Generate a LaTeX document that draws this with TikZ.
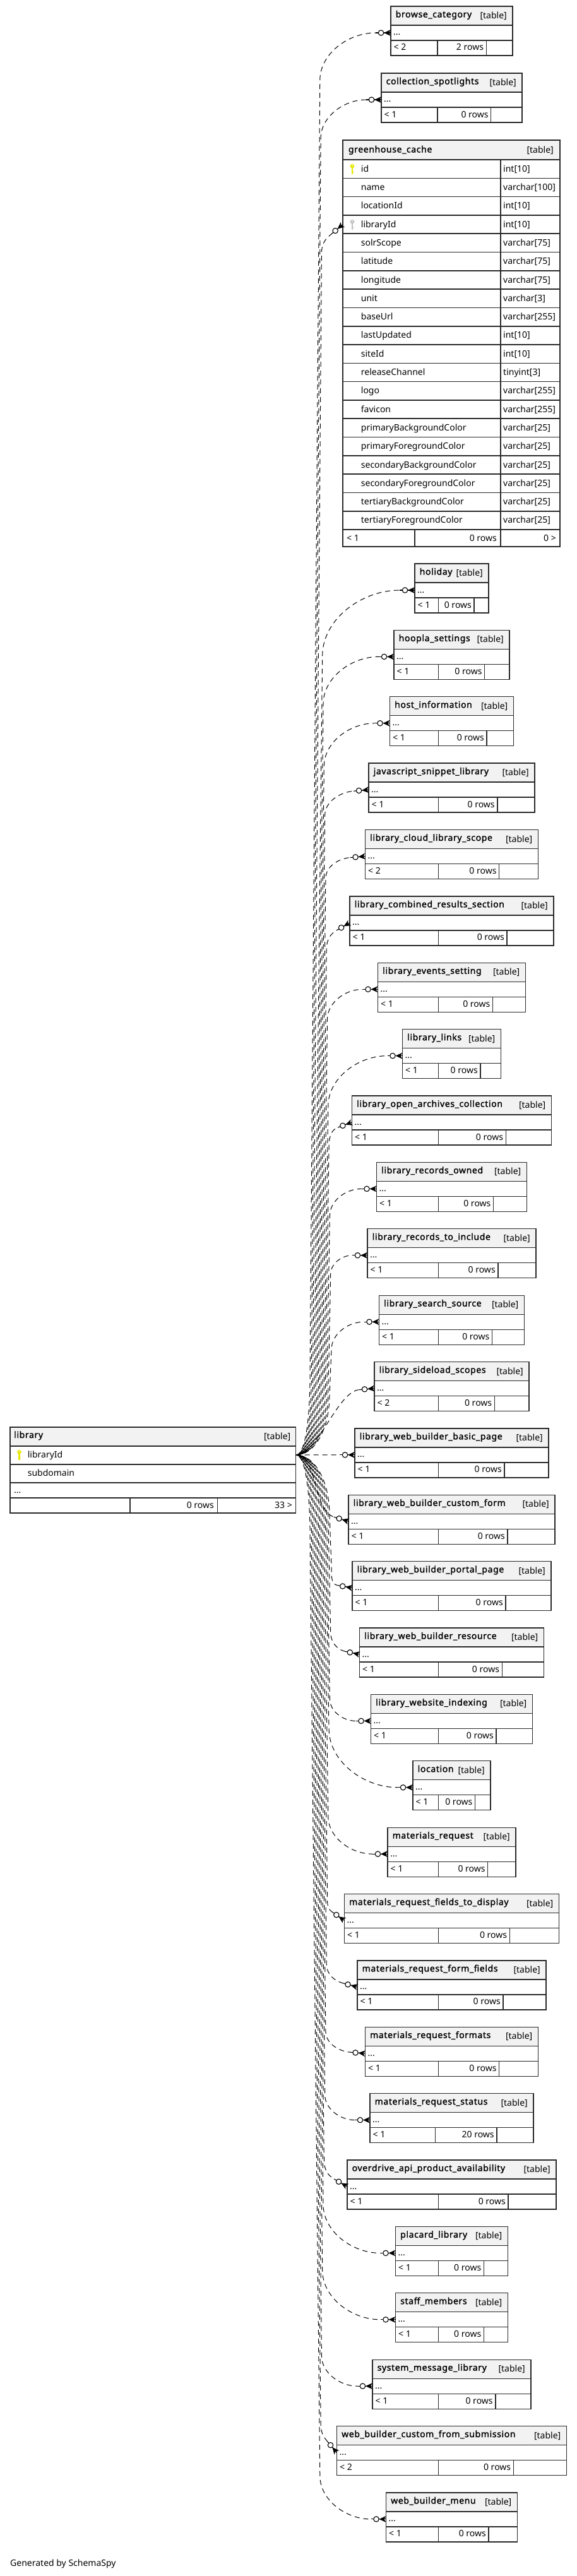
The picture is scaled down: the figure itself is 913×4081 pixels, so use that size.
\documentclass[tikz,border=0pt]{standalone}
\usepackage{fontspec}
\setmainfont{Noto Sans}[BoldFont={Noto Sans}, BoldFeatures={FakeBold=1.6, LetterSpace=4.5}]
\usetikzlibrary{calc}
\definecolor{hdrfill}{HTML}{F2F2F2}
\definecolor{keyyellow}{HTML}{E6E600}
\definecolor{keygray}{HTML}{C0C0C0}
\definecolor{linecol}{HTML}{2A2A2A}
\tikzset{
 tabline/.style={draw=linecol, line width=1.3pt},
 gin/.style={draw=linecol, line width=1.6pt},
 gout/.style={draw=linecol, line width=2.6pt},
 ttl/.style={anchor=base west, inner sep=0pt, font=\fontsize{14}{16}\selectfont\bfseries},
 tagtxt/.style={anchor=base east, inner sep=0pt, font=\fontsize{14}{16}\selectfont},
 txt/.style={anchor=base west, inner sep=0pt, font=\fontsize{14}{16}\selectfont},
 txtr/.style={anchor=base east, inner sep=0pt, font=\fontsize{14}{16}\selectfont},
 fk/.style={draw=black, line width=1pt, dash pattern=on 8pt off 6pt},
 fkhead/.style={draw=black, line width=1.1pt, solid},
}
\newcommand\keyicon[3]{%
  \fill[#3] (#1,#2+3.2) ellipse[x radius=3.4pt, y radius=3.2pt];
  \fill[#3] (#1-1.1,#2+5) rectangle (#1+1.1,#2+15.5);
  \fill[#3] (#1+1.1,#2+11.5) rectangle (#1+2.6,#2+13);
  \fill[white] (#1,#2+2.6) circle[radius=1.1pt];
}
\newcommand\smalltab[7]{%
  \pgfmathsetmacro\tabTop{#4}%
  \pgfmathsetmacro\tabL{715.5-#3/2}%
  \pgfmathsetmacro\tabR{715.5+#3/2}%
  \pgfmathsetmacro\tabDb{\tabR-(0.248*#3-6.1)}%
  \pgfmathsetmacro\tabPx{\tabL}%
  \pgfmathsetmacro\tabPy{\tabTop+42}%
  \fill[hdrfill] (\tabL,\tabTop) rectangle (\tabR,\tabTop+30);
  \draw[tabline] (\tabL,\tabTop+30) -- (\tabR,\tabTop+30)
     (\tabL,\tabTop+54) -- (\tabR,\tabTop+54)
     (#7,\tabTop+54) -- (#7,\tabTop+78)
     (\tabDb,\tabTop+54) -- (\tabDb,\tabTop+78);
  \draw[tabline] (\tabL,\tabTop) rectangle (\tabR,\tabTop+78);
  \node[ttl] (#1-title) at (\tabL+7.5,\tabTop+17.5) {#2};
  \node[tagtxt] (#1-tag) at (\tabR-9,\tabTop+19.5) {[table]};
  \node[txt] (#1-dots) at (\tabL+4,\tabTop+46) {...};
  \node[txt] (#1-min) at (\tabL+4.5,\tabTop+70) {#5};
  \node[txtr] (#1-cnt) at (\tabDb-4,\tabTop+70) {#6};
  \coordinate (#1-port) at (\tabPx,\tabPy);
}
\newcommand\crowfoot[2]{%
  \coordinate (#1-V) at ($(#1-port)+(180+#2:11)$);
  \coordinate (#1-O) at ($(#1-port)+(180+#2:15.5)$);
  \draw[fkhead] (#1-C) -- (#1-port);
  \draw[fkhead, fill=white] (#1-O) circle[radius=4.2pt];
  \fill[black] (#1-V) -- ($(#1-port)!5pt!90:(#1-V)$) -- ($(#1-port)+(180+#2:3)$) -- ($(#1-port)!5pt!-90:(#1-V)$) -- cycle;
}
\newcommand\bundleedge[4]{%
  \pgfmathsetmacro\eXa{522-2.2*#3}%
  \pgfmathsetmacro\eXb{525-1.3*#3}%
  \pgfmathsetmacro\eCx{\tabPx-24*cos(#4)}%
  \pgfmathsetmacro\eCy{\tabPy-24*sin(#4)}%
  \pgfmathsetmacro\eH{max(30,0.85*(\eCx-\eXb))}%
  \pgfmathsetmacro\eQ{max(10,0.5*(\eCx-\eXb))}%
  \pgfmathsetmacro\eYa{2305+#2*(95+3*#3)}%
  \pgfmathsetmacro\eYb{\eCy-#2*\eH}%
  \pgfmathsetmacro\eYc{\eCy-#2*0.45*\eH}%
  \pgfmathsetmacro\eXm{468.5+0.6*(\eXa-468.5)}%
  \pgfmathsetmacro\eYm{2305+#2*45}%
  \pgfmathsetmacro\ePh{mod(#3*5+(#2+1)*4,14)}%
  \coordinate (#1-C) at (\eCx,\eCy);
  \draw[fk, dash phase=\ePh pt] (lib-port) .. controls (\eXm,2305) and (\eXa,\eYm) .. (\eXa,\eYa) -- (\eXb,\eYb) .. controls (\eXb,\eYc) and ($(#1-C)+(180+#4:\eQ)$) .. (#1-C);
  \crowfoot{#1}{#4}
}
\newcommand\directedge[2]{%
  \pgfmathsetmacro\eCx{\tabPx-24*cos(#2)}%
  \pgfmathsetmacro\eCy{\tabPy-24*sin(#2)}%
  \coordinate (#1-C) at (\eCx,\eCy);
  \draw[fk] (lib-port) .. controls ($(lib-port)+(35,0)$) and ($(#1-C)+(180+#2:35)$) .. (#1-C);
  \crowfoot{#1}{#2}
}
\begin{document}
\begin{tikzpicture}[x=1pt,y=-1pt]
\useasboundingbox (0,0) rectangle (913,4081);
\coordinate (lib-port) at (468.5,2305);

% ---------- library ----------
\fill[hdrfill] (16,2261) rectangle (468.5,2291);
\draw[tabline, line width=1.5pt] (16,2291) -- (468.5,2291) (16,2320) -- (468.5,2320) (16,2349) -- (468.5,2349) (16,2373) -- (468.5,2373)
  (206,2373) -- (206,2397) (344.6,2373) -- (344.6,2397);
\draw[tabline, line width=1.5pt] (16,2261) rectangle (468.5,2397);
\node[ttl] (lib-title) at (22,2278) {library};
\node[tagtxt] (lib-tag) at (460.5,2280.5) {[table]};
\keyicon{30.5}{2297}{keyyellow}
\node[txt] (lib-r1) at (43.6,2309) {libraryId};
\node[txt] (lib-r2) at (43.6,2338) {subdomain};
\node[txt] (lib-dots) at (22,2365) {...};
\node[txtr] (lib-cnt) at (339,2389) {0 rows};
\node[txtr] (lib-ref) at (463,2389) {33 >};

% ---------- greenhouse_cache ----------
\fill[hdrfill] (543,222) rectangle (887,253);
\foreach \i in {0,...,20} \draw[gin] (543,{253+29.3*\i}) -- (887,{253+29.3*\i});
\draw[gin] (793,253) -- (793,866) (657,839) -- (657,866);
\draw[gout] (543,222) rectangle (887,866);
\node[ttl] (gc-title) at (551.7,241.5) {greenhouse\_cache};
\node[tagtxt] (gc-tag) at (877,242) {[table]};
\foreach \nm/\ty [count=\i from 0] in {id/int[10],name/varchar[100],locationId/int[10],libraryId/int[10],solrScope/varchar[75],latitude/varchar[75],longitude/varchar[75],unit/varchar[3],baseUrl/varchar[255],lastUpdated/int[10],siteId/int[10],releaseChannel/tinyint[3],logo/varchar[255],favicon/varchar[255],primaryBackgroundColor/varchar[25],primaryForegroundColor/varchar[25],secondaryBackgroundColor/varchar[25],secondaryForegroundColor/varchar[25],tertiaryBackgroundColor/varchar[25],tertiaryForegroundColor/varchar[25]}{
  \node[txt] (gc-n\i) at (571.7,{253+29.3*\i+19.2}) {\nm};
  \node[txt] (gc-t\i) at (797,{253+29.3*\i+19.2}) {\ty};
}
\keyicon{558}{260}{keyyellow}
\keyicon{558}{348}{keygray}
\node[txt] (gc-min) at (549,857) {< 1};
\node[txtr] (gc-cnt) at (787,857) {0 rows};
\node[txtr] (gc-ref) at (881,857) {0 >};
\coordinate (gc-port) at (543,355.6);

% ---------- edges and child tables ----------
\smalltab{browse}{browse\_category}{193}{10}{< 2}{2 rows}{693}
\bundleedge{browse}{-1}{14}{0}
\smalltab{colsp}{collection\_spotlights}{223}{116}{< 1}{0 rows}{693}
\bundleedge{colsp}{-1}{13}{0}
\def\tabPx{543}\def\tabPy{355.6}
\bundleedge{gc}{-1}{12}{-40}

\smalltab{holiday}{holiday}{117}{893}{< 1}{0 rows}{694.3}
\bundleedge{holiday}{-1}{11}{0}
\smalltab{hoopla}{hoopla\_settings}{183}{893+105.375*1}{< 1}{0 rows}{694.3}
\bundleedge{hoopla}{-1}{10}{0}
\smalltab{host}{host\_information}{196}{893+105.375*2}{< 1}{0 rows}{694.3}
\bundleedge{host}{-1}{9}{0}
\smalltab{js}{javascript\_snippet\_library}{263}{893+105.375*3}{< 1}{0 rows}{694.3}
\bundleedge{js}{-1}{8}{-5}
\smalltab{cloud}{library\_cloud\_library\_scope}{274}{893+105.375*4}{< 2}{0 rows}{694.3}
\bundleedge{cloud}{-1}{7}{-5}
\smalltab{comb}{library\_combined\_results\_section}{323}{893+105.375*5}{< 1}{0 rows}{694.3}
\bundleedge{comb}{-1}{6}{-30}
\smalltab{events}{library\_events\_setting}{234}{893+105.375*6}{< 1}{0 rows}{694.3}
\bundleedge{events}{-1}{5}{0}
\smalltab{links}{library\_links}{156}{893+105.375*7}{< 1}{0 rows}{694.3}
\bundleedge{links}{-1}{4}{0}
\smalltab{oac}{library\_open\_archives\_collection}{316}{893+105.375*8}{< 1}{0 rows}{694.3}
\bundleedge{oac}{-1}{3}{-20}
\smalltab{recown}{library\_records\_owned}{238}{893+105.375*9}{< 1}{0 rows}{694.3}
\bundleedge{recown}{-1}{2}{0}
\smalltab{recinc}{library\_records\_to\_include}{267}{893+105.375*10}{< 1}{0 rows}{694.3}
\bundleedge{recinc}{-1}{1}{0}
\smalltab{search}{library\_search\_source}{230}{893+105.375*11}{< 1}{0 rows}{694.3}
\bundleedge{search}{-1}{0}{0}
\smalltab{sideload}{library\_sideload\_scopes}{245}{893+105.375*12}{< 2}{0 rows}{694.3}
\directedge{sideload}{-5}
\smalltab{basic}{library\_web\_builder\_basic\_page}{307}{893+105.375*13}{< 1}{0 rows}{694.3}
\directedge{basic}{0}
\smalltab{cform}{library\_web\_builder\_custom\_form}{327}{893+105.375*14}{< 1}{0 rows}{694.3}
\directedge{cform}{17}
\smalltab{portal}{library\_web\_builder\_portal\_page}{315}{893+105.375*15}{< 1}{0 rows}{694.3}
\bundleedge{portal}{1}{0}{10}
\smalltab{resource}{library\_web\_builder\_resource}{292}{893+105.375*16}{< 1}{0 rows}{694.3}
\bundleedge{resource}{1}{1}{12}
\smalltab{webidx}{library\_website\_indexing}{256}{893+105.375*17}{< 1}{0 rows}{694.3}
\bundleedge{webidx}{1}{2}{0}
\smalltab{location}{location}{123}{893+105.375*18}{< 1}{0 rows}{694.3}
\bundleedge{location}{1}{3}{0}
\smalltab{matreq}{materials\_request}{203}{893+105.375*19}{< 1}{0 rows}{694.3}
\bundleedge{matreq}{1}{4}{0}
\smalltab{fields}{materials\_request\_fields\_to\_display}{340}{893+105.375*20}{< 1}{0 rows}{694.3}
\bundleedge{fields}{1}{5}{35}
\smalltab{formf}{materials\_request\_form\_fields}{299}{893+105.375*21}{< 1}{0 rows}{694.3}
\bundleedge{formf}{1}{6}{15}
\smalltab{formats}{materials\_request\_formats}{274}{893+105.375*22}{< 1}{0 rows}{694.3}
\bundleedge{formats}{1}{7}{5}
\smalltab{status}{materials\_request\_status}{259}{893+105.375*23}{< 1}{20 rows}{689.7}
\bundleedge{status}{1}{8}{0}
\smalltab{overdrive}{overdrive\_api\_product\_availability}{331}{893+105.375*24}{< 1}{0 rows}{694.3}
\bundleedge{overdrive}{1}{9}{30}
\smalltab{placard}{placard\_library}{178}{893+105.375*25}{< 1}{0 rows}{694.3}
\bundleedge{placard}{1}{10}{0}
\smalltab{staff}{staff\_members}{178}{893+105.375*26}{< 1}{0 rows}{694.3}
\bundleedge{staff}{1}{11}{0}
\smalltab{sysmsg}{system\_message\_library}{251}{893+105.375*27}{< 1}{0 rows}{694.3}
\bundleedge{sysmsg}{1}{12}{0}
\smalltab{subm}{web\_builder\_custom\_from\_submission}{364}{893+105.375*28}{< 2}{0 rows}{694.3}
\bundleedge{subm}{1}{13}{50}
\smalltab{menu}{web\_builder\_menu}{208}{893+105.375*29}{< 1}{0 rows}{694.3}
\bundleedge{menu}{1}{14}{0}

\node[txt] (gen) at (16,4065) {Generated by SchemaSpy};
\end{tikzpicture}
\end{document}
